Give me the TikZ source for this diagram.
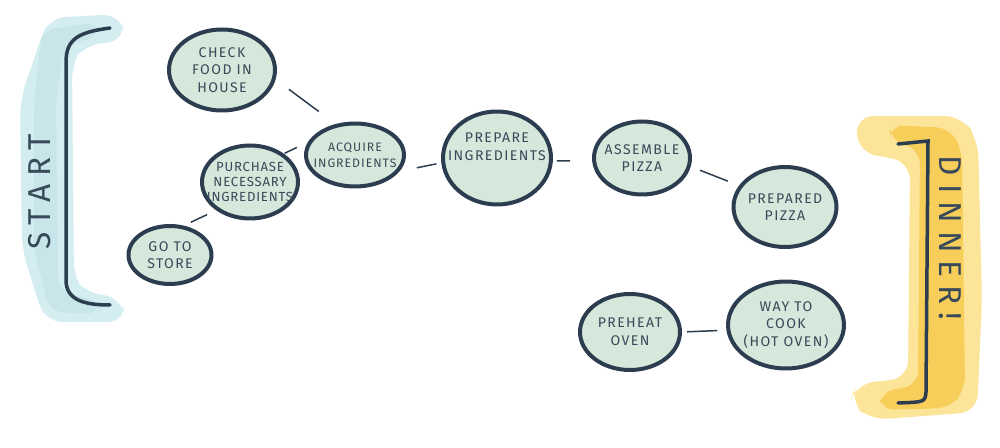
\documentclass[tikz,border=0pt]{standalone}
\usepackage{fontspec}
\setmainfont{Fira Sans}
\usepackage{tikz}
\usetikzlibrary{positioning,shapes.geometric}
\definecolor{ink}{rgb}{0.17,0.24,0.31}
\definecolor{pencil}{rgb}{0.22,0.29,0.35}
\definecolor{mint}{rgb}{0.83,0.91,0.86}
\definecolor{startwash}{rgb}{0.83,0.93,0.94}
\definecolor{startcore}{rgb}{0.74,0.88,0.90}
\definecolor{dinnerwash}{rgb}{0.97,0.79,0.30}
\definecolor{dinnerpale}{rgb}{0.99,0.90,0.60}
\tikzstyle{bb}=[%
      ellipse, draw=ink, line width=0.08cm, fill=mint, text=pencil, align=center,
      inner xsep=-0.5cm, inner ysep=-0.3cm,
      font=\fontsize{8}{10}\selectfont\addfontfeatures{LetterSpace=10}
]

\begin{document}
\begin{tikzpicture}[x=0.02cm, y=-0.02cm,
    link/.style={draw=ink, line width=0.03cm},
    bracket/.style={draw=ink, line width=0.07cm, line cap=round},
    side/.style={text=pencil, font=\fontsize{18}{18}\selectfont\addfontfeatures{LetterSpace=25}},
]
    \useasboundingbox (0,0) rectangle (1000,448);

    % washes behind the brackets
    \fill[startwash, rounded corners=10] (48,18) -- (120,14) -- (126,40) -- (82,46) -- (72,62)
        -- (74,280) -- (84,292) -- (122,298) -- (126,322) -- (45,322) -- (22,250) -- (20,100) -- cycle;
    \fill[startcore, opacity=0.5, rounded corners=8] (42,30) -- (100,22) -- (100,36) -- (64,46)
        -- (56,100) -- (58,290) -- (100,302) -- (100,314) -- (50,312) -- (34,250) -- (34,100) -- cycle;
    \fill[dinnerpale, rounded corners=10] (856,116) -- (962,116) -- (978,140) -- (982,300)
        -- (977,412) -- (870,420) -- (850,402) -- (856,384) -- (908,378) -- (910,162)
        -- (858,152) -- cycle;
    \fill[dinnerwash, opacity=0.8, rounded corners=8] (890,125) -- (950,128) -- (962,150)
        -- (965,390) -- (950,408) -- (880,410) -- (880,392) -- (918,385) -- (920,150)
        -- (890,140) -- cycle;

    % brackets
    \draw[bracket] (110,28) .. controls (80,32) and (66,38) .. (66,62) -- (66,280)
        .. controls (66,300) and (84,305) .. (110,305);
    \draw[bracket] (898,144) -- (928,141) -- (926,392) .. controls (925,402) .. (898,403);

    \node[side, rotate=90]  (start)  at (40,192)  {START};
    \node[side, rotate=-90] (dinner) at (950,238) {DINNER!};

    % steps
    \node[bb, minimum width=2.12cm, minimum height=1.62cm] (1) at (222,70)  {CHECK\\FOOD IN\\HOUSE};
    \node[bb, minimum width=1.96cm, minimum height=1.26cm,
          font=\fontsize{7}{9}\selectfont\addfontfeatures{LetterSpace=8}] (2) at (355,155) {ACQUIRE\\INGREDIENTS};
    \node[bb, minimum width=1.92cm, minimum height=1.46cm,
          font=\fontsize{7.5}{8.5}\selectfont\addfontfeatures{LetterSpace=6}] (3) at (250,182) {PURCHASE\\NECESSARY\\INGREDIENTS};
    \node[bb, minimum width=1.66cm, minimum height=1.16cm] (4) at (170,255) {GO TO\\STORE};
    \node[bb, minimum width=2.16cm, minimum height=1.86cm, text depth=0.45cm] (5) at (497,158) {PREPARE\\INGREDIENTS};
    \node[bb, minimum width=1.92cm, minimum height=1.46cm] (6) at (642,158) {ASSEMBLE\\PIZZA};
    \node[bb, minimum width=2.06cm, minimum height=1.60cm] (7) at (785,207) {PREPARED\\PIZZA};
    \node[bb, minimum width=2.00cm, minimum height=1.52cm] (8) at (630,332) {PREHEAT\\OVEN};
    \node[bb, minimum width=2.32cm, minimum height=1.74cm] (9) at (786,325) {WAY TO\\COOK\\(HOT OVEN)};

    \path (1.-10)  edge[link, shorten <=0.33cm, shorten >=0.42cm] (2.122)
          (3.40)   edge[link, shorten <=0.02cm, shorten >=0.24cm] (2.165)
          (4.65)   edge[link, shorten <=0.16cm, shorten >=0.2cm]  (3.220)
          (5.185)  edge[link, shorten <=0.1cm,  shorten >=0.35cm] (2.-20)
          (5.-3)   edge[link, shorten <=0.08cm, shorten >=0.44cm] (6.183)
          (6.-10)  edge[link, shorten <=0.2cm,  shorten >=0.24cm] (7.155)
          (8.0)    edge[link, shorten <=0.1cm,  shorten >=0.18cm] (9.185)
    ;
\end{tikzpicture}
\end{document}
